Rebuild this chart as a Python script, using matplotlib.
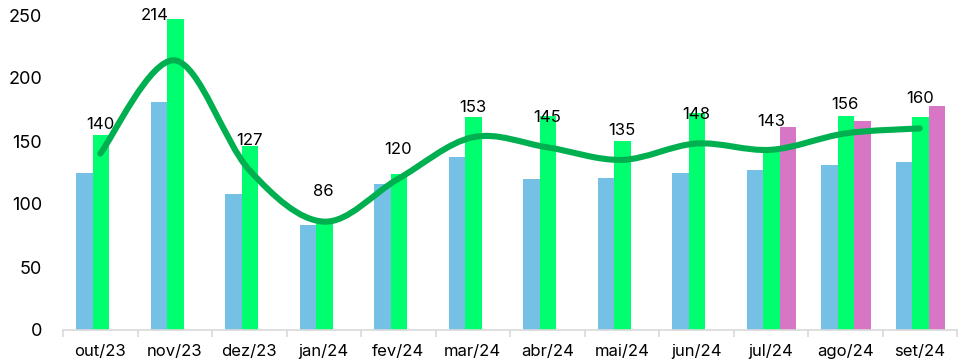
import numpy as np
import matplotlib
matplotlib.use("Agg")
import matplotlib.pyplot as plt
from matplotlib.path import Path
from matplotlib.patches import PathPatch

plt.rcParams['font.family'] = ['Inter', 'DejaVu Sans']

# monthly data
months = ["out/23", "nov/23", "dez/23", "jan/24", "fev/24", "mar/24",
          "abr/24", "mai/24", "jun/24", "jul/24", "ago/24", "set/24"]
serie_azul = [125, 181, 108, 83, 116, 137, 120, 121, 125, 127, 131, 133]
serie_verde = [155, 247, 146, 85, 124, 169, 170, 150, 172, 141, 170, 169]
serie_rosa = [None, None, None, None, None, None, None, None, None, 161, 166, 178]
media = [140, 214, 127, 86, 120, 153, 145, 135, 148, 143, 156, 160]

# label nudges (pixels) for the line values
label_dx = [0, -20, 0, 0, 0, 0, 0, 0, 0, 0, 0, 0]
label_dy = [29, 45, 29, 30, 29, 30, 30, 29, 29, 28, 29, 30]


def smooth_path(xs, ys, k=1/6):
    # cubic bezier through every point (catmull-rom style control points)
    pts = np.column_stack([xs, ys]).astype(float)
    n = len(pts)
    verts = [pts[0]]
    codes = [Path.MOVETO]
    for i in range(n - 1):
        p0 = pts[max(i - 1, 0)]
        p1 = pts[i]
        p2 = pts[i + 1]
        p3 = pts[min(i + 2, n - 1)]
        c1 = p1 + (p2 - p0) * k
        c2 = p2 - (p3 - p1) * k
        verts += [c1, c2, p2]
        codes += [Path.CURVE4] * 3
    return Path(verts, codes)


fig = plt.figure(figsize=(9.6, 3.61), dpi=100)
ax = fig.add_axes([63 / 960, 31 / 361, 894 / 960, 315 / 361])

x = np.arange(len(months))
w = 0.22
ax.bar(x - 0.21, serie_azul, width=w, color="#75C1E6", zorder=2)
ax.bar(x + 0.01, serie_verde, width=w, color="#00FF6E", zorder=2)
rosa_x = [i for i, v in enumerate(serie_rosa) if v is not None]
rosa_v = [v for v in serie_rosa if v is not None]
ax.bar(np.array(rosa_x) + 0.23, rosa_v, width=w, color="#D676C5", zorder=2)

patch = PathPatch(smooth_path(x, media), facecolor="none", edgecolor="#00B050",
                  lw=4.4, capstyle="round", joinstyle="round", zorder=3)
ax.add_patch(patch)

for i, v in enumerate(media):
    ax.annotate(str(v), (x[i], v), xytext=(label_dx[i], label_dy[i]),
                textcoords="offset pixels", ha="center", va="center",
                fontsize=12, color="#000000", zorder=4, annotation_clip=False)

ax.set_xlim(-0.5, len(months) - 0.5)
ax.set_ylim(0, 250)
ax.set_yticks(range(0, 251, 50))
ax.tick_params(axis="y", length=0, labelsize=13, pad=15, labelcolor="#000000")

# category labels centred, tick marks on the boundaries
ax.set_xticks(x)
ax.set_xticklabels(months)
ax.set_xticks(np.arange(-0.5, len(months)), minor=True)
ax.tick_params(axis="x", which="major", length=0, labelsize=12, pad=10,
               labelcolor="#000000")
ax.tick_params(axis="x", which="minor", length=5, color="#D9D9D9", width=1.2)

for s in ["top", "right", "left"]:
    ax.spines[s].set_visible(False)
ax.spines["bottom"].set_color("#D9D9D9")
ax.spines["bottom"].set_linewidth(1.2)

fig.savefig("out.png", dpi=100)
